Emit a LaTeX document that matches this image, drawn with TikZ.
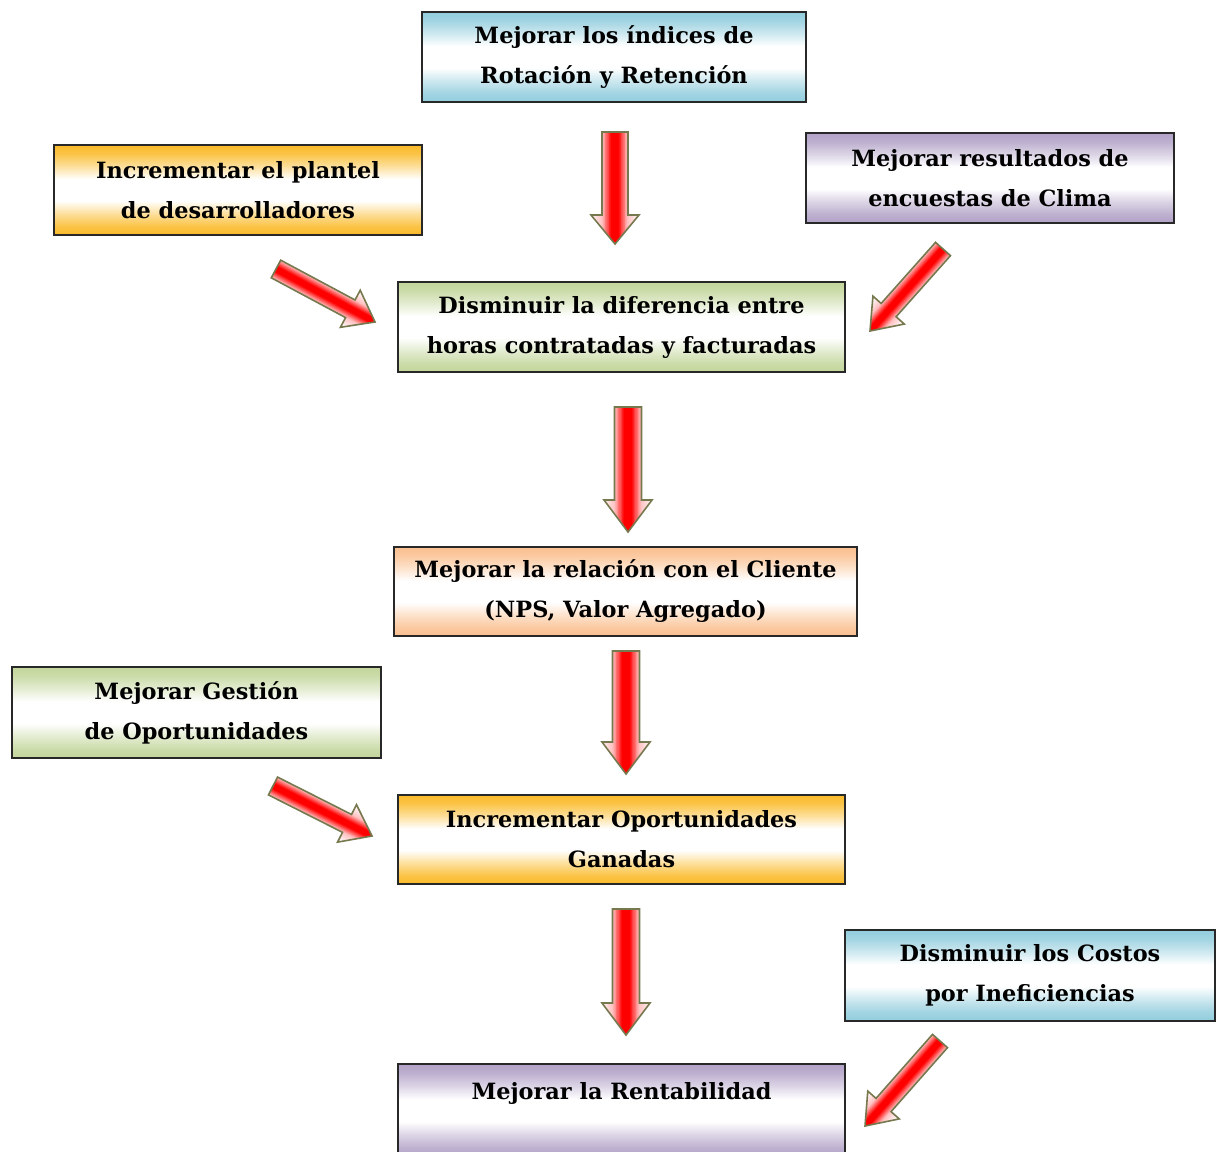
\documentclass[tikz,border=0pt]{standalone}
\usepackage{fontspec}
\setmainfont{DejaVu Serif}
\usetikzlibrary{calc}
\definecolor{cblue}{RGB}{146,205,221}
\definecolor{corange}{RGB}{250,186,40}
\definecolor{cpurple}{RGB}{178,162,199}
\definecolor{cgreen}{RGB}{195,214,155}
\definecolor{cpeach}{RGB}{250,192,144}
\definecolor{boxline}{RGB}{40,40,40}
\definecolor{arrowol}{RGB}{118,120,78}
\newcommand\mkshade[1]{%
  \pgfdeclareverticalshading{sh#1}{100bp}{color(0bp)=(#1); color(25bp)=(#1);
    color(30bp)=(#1!85!white); color(37bp)=(#1!45!white); color(44bp)=(white); color(56bp)=(white);
    color(63bp)=(#1!45!white); color(70bp)=(#1!85!white); color(75bp)=(#1); color(100bp)=(#1)}}
\mkshade{cblue}\mkshade{corange}\mkshade{cpurple}\mkshade{cgreen}\mkshade{cpeach}
\tikzset{
  box/.style={draw=boxline, line width=1.5pt, shading=sh#1, align=center, inner sep=0pt,
    font=\fontsize{22.4}{40}\selectfont\bfseries},
  arrowline/.style={draw=arrowol, line width=1.6pt, line join=miter}
}
\newcommand\blockarrow[5]{%
  \coordinate (#1h) at ($(#2)!#5pt!(#1)$);
  \def\arrowpath{($(#1)!#3pt!90:(#2)$) -- ($(#1h)!#3pt!90:(#2)$) -- ($(#1h)!#4pt!90:(#2)$) -- (#2) -- ($(#1h)!#4pt!-90:(#2)$) -- ($(#1h)!#3pt!-90:(#2)$) -- ($(#1)!#3pt!-90:(#2)$) -- cycle}%
  \begin{scope}
    \clip \arrowpath;
    \foreach \k in {0,...,29}{%
      \pgfmathsetmacro\ww{2*#4*(1-\k/30)}%
      \pgfmathsetmacro\rr{\ww/(2*#3)}%
      \pgfmathtruncatemacro\pp{max(4,min(100,ifthenelse(\rr<1,100-(\rr-0.3)*107,25-(\rr-1)*25)))}%
      \draw[line width=\ww pt, red!\pp!white] ($(#1)!-5pt!(#2)$) -- ($(#2)!-5pt!(#1)$);
    }
  \end{scope}
  \draw[arrowline] \arrowpath;
}
\begin{document}
\begin{tikzpicture}[x=1pt,y=-1pt]
\useasboundingbox (0,0) rectangle (1223,1151);
\fill[white] (0,0) rectangle (1223,1151);

\node[box=cblue, minimum width=384pt, minimum height=90pt] (n1) at (614,57) {Mejorar los índices de\\Rotación y Retención};
\node[box=corange, minimum width=368pt, minimum height=90pt] (n2) at (238,190) {Incrementar el plantel\\de desarrolladores};
\node[box=cpurple, minimum width=368pt, minimum height=90pt] (n3) at (990,178) {Mejorar resultados de\\encuestas de Clima};
\node[box=cgreen, minimum width=447pt, minimum height=90pt] (n4) at (621.5,327) {Disminuir la diferencia entre\\horas contratadas y facturadas};
\node[box=cpeach, minimum width=463pt, minimum height=89pt] (n5) at (625.5,591.5) {Mejorar la relación con el Cliente\\(NPS, Valor Agregado)};
\node[box=cgreen, minimum width=369pt, minimum height=91pt] (n6) at (196.5,712.5) {Mejorar Gestión\\de Oportunidades};
\node[box=corange, minimum width=447pt, minimum height=89pt] (n7) at (621.5,839.5) {Incrementar Oportunidades\\Ganadas};
\node[box=cblue, minimum width=370pt, minimum height=91pt] (n8) at (1030,975.5) {Disminuir los Costos\\por Ineficiencias};
\node[box=cpurple, minimum width=447pt, minimum height=93pt] (n9) at (621.5,1110.5) {Mejorar la Rentabilidad\\\mbox{}};

\coordinate (a1s) at (615,132);   \coordinate (a1e) at (615,244);
\coordinate (a2s) at (628,407);   \coordinate (a2e) at (628,532);
\coordinate (a3s) at (626,651);   \coordinate (a3e) at (626,774);
\coordinate (a4s) at (626,909);   \coordinate (a4e) at (626,1035);
\coordinate (d1s) at (276,269);   \coordinate (d1e) at (375,322);
\coordinate (d2s) at (273,786);   \coordinate (d2e) at (372,836);
\coordinate (d3s) at (943,249);   \coordinate (d3e) at (870,331);
\coordinate (d4s) at (940,1041);  \coordinate (d4e) at (865,1126);

\blockarrow{a1s}{a1e}{13}{24}{29}
\blockarrow{a2s}{a2e}{13.5}{24}{32}
\blockarrow{a3s}{a3e}{13.5}{24}{32}
\blockarrow{a4s}{a4e}{13.5}{24}{32}
\blockarrow{d1s}{d1e}{10}{21}{28}
\blockarrow{d2s}{d2e}{10}{21}{28}
\blockarrow{d3s}{d3e}{10}{21}{28}
\blockarrow{d4s}{d4e}{10}{21}{28}
\end{tikzpicture}
\end{document}
